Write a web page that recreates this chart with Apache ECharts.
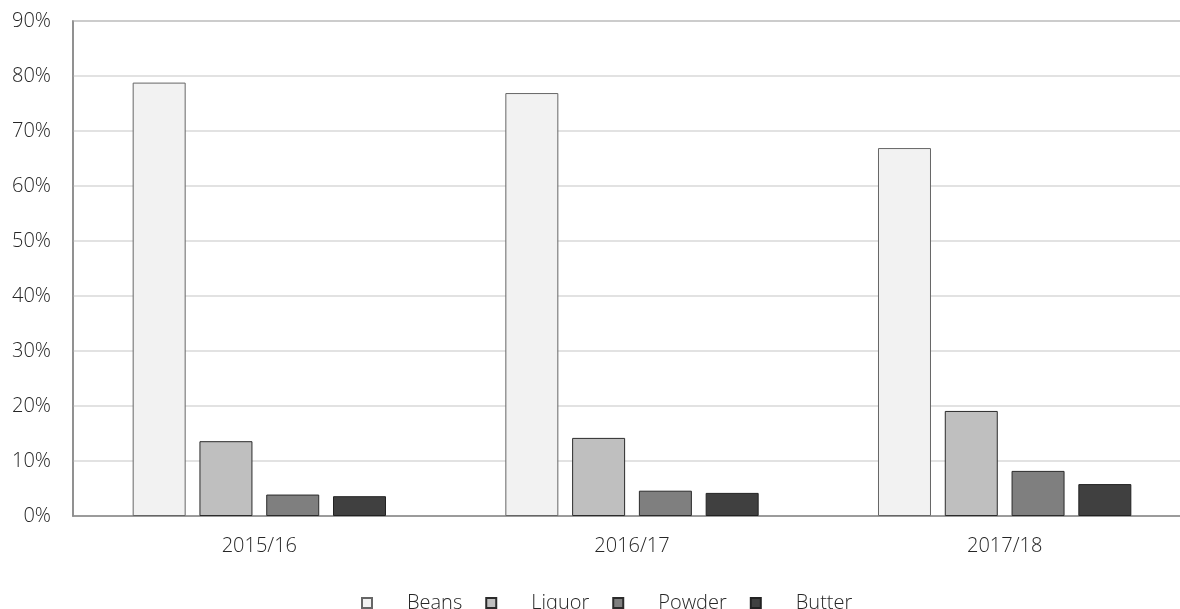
<!DOCTYPE html>
<html>
<head>
<meta charset="utf-8">
<script src="https://cdn.jsdelivr.net/npm/echarts@6/dist/echarts.min.js"></script>
<style>
  html, body { margin: 0; padding: 0; background: #fff; overflow: hidden; }
  #chart { width: 1200px; height: 609px; }
</style>
</head>
<body>
<div id="chart"></div>
<script>
// Share of exports by product, per season (percent)
const seasons = ['2015/16', '2016/17', '2017/18'];
const beans  = [78.8, 76.9, 66.9];
const liquor = [13.6, 14.2, 19.1];
const powder = [3.9, 4.6, 8.2];
const butter = [3.6, 4.2, 5.8];

const yMin = 0, yMax = 90, yStep = 10;

const FONT = '"Open Sans", "DejaVu Sans", sans-serif';
const TEXT = '#262626';

function barSeries(name, data, fill, border) {
  return {
    name: name,
    type: 'bar',
    data: data,
    barWidth: 53,
    barGap: '26%',
    itemStyle: { color: fill, borderColor: border, borderWidth: 1 },
    emphasis: { disabled: true }
  };
}

const chart = echarts.init(document.getElementById('chart'), null, { renderer: 'canvas' });
chart.setOption({
  animation: false,
  backgroundColor: '#ffffff',
  textStyle: { fontFamily: FONT, fontWeight: 300, color: TEXT },
  // plot frame runs past the right edge of the visible page
  grid: {
    left: 73, top: 21, right: 9, height: 495,
    show: true, borderColor: '#8a8a8a', borderWidth: 1.5, backgroundColor: 'transparent'
  },
  legend: {
    left: 356, top: 588,
    itemWidth: 10, itemHeight: 10, itemGap: 23,
    icon: 'rect',
    textStyle: { fontFamily: FONT, fontWeight: 300, fontSize: 20, color: TEXT, padding: [0, 0, 0, 30] },
    data: ['Beans', 'Liquor', 'Powder', 'Butter']
  },
  xAxis: {
    type: 'category',
    data: seasons,
    axisLine: { show: true, lineStyle: { color: '#8a8a8a', width: 1.5 } },
    axisTick: { show: false },
    axisLabel: { fontFamily: FONT, fontWeight: 300, fontSize: 20, color: TEXT, margin: 20 }
  },
  yAxis: {
    type: 'value',
    min: yMin, max: yMax, interval: yStep,
    axisLine: { show: true, lineStyle: { color: '#8a8a8a', width: 1.5 } },
    axisTick: { show: false },
    splitLine: { lineStyle: { color: '#d9d9d9', width: 1.5 } },
    axisLabel: {
      fontFamily: FONT, fontWeight: 300, fontSize: 20, color: TEXT, margin: 22,
      formatter: v => v + '%'
    }
  },
  series: [
    barSeries('Beans',  beans,  '#f2f2f2', '#666666'),
    barSeries('Liquor', liquor, '#bfbfbf', '#2b2b2b'),
    barSeries('Powder', powder, '#7f7f7f', '#2b2b2b'),
    barSeries('Butter', butter, '#404040', '#222222')
  ]
});
</script>
</body>
</html>
